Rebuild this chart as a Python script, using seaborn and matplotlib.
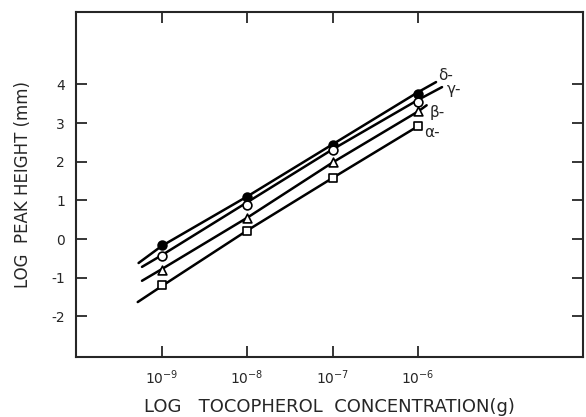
import matplotlib
matplotlib.use("Agg")
import matplotlib.pyplot as plt
import seaborn as sns
import pandas as pd

sns.set_style("ticks")
plt.rcParams['font.family'] = ['DejaVu Sans']

# data (log10 grams vs log peak height)
log_conc = [-9, -8, -7, -6]
delta = [-0.15, 1.10, 2.42, 3.75]
gamma = [-0.45, 0.88, 2.30, 3.55]
beta = [-0.80, 0.55, 2.00, 3.30]
alpha = [-1.20, 0.22, 1.58, 2.92]

# fitted line end points
delta_line_x = [-9.27, -9, -8, -7, -6, -5.79]
delta_line_y = [-0.62, -0.18, 1.10, 2.45, 3.80, 4.06]
gamma_line_x = [-9.23, -9, -8, -7, -6, -5.72]
gamma_line_y = [-0.72, -0.42, 0.95, 2.32, 3.60, 3.93]
beta_line_x = [-9.23, -9, -8, -7, -6, -5.90]
beta_line_y = [-1.08, -0.78, 0.55, 1.98, 3.30, 3.46]
alpha_line_x = [-9.28, -9, -8, -7, -6]
alpha_line_y = [-1.63, -1.22, 0.22, 1.58, 2.92]

series_labels = ["δ-", "γ-", "β-", "α-"]
y_ticks = [-2, -1, 0, 1, 2, 3, 4]
x_ticks = [-9, -8, -7, -6]
x_tick_labels = ["$10^{-9}$", "$10^{-8}$", "$10^{-7}$", "$10^{-6}$"]

fig = plt.figure(figsize=(5.86, 4.17), dpi=100)
ax = fig.add_axes([0.130, 0.144, 0.865, 0.827])

lines = [(delta_line_x, delta_line_y), (gamma_line_x, gamma_line_y),
         (beta_line_x, beta_line_y), (alpha_line_x, alpha_line_y)]
for lx, ly in lines:
    sns.lineplot(x=lx, y=ly, ax=ax, color="black", lw=1.8, sort=False,
                 estimator=None)

pts = [(delta, "o", "black"), (gamma, "o", "white"),
       (beta, "^", "white"), (alpha, "s", "white")]
for vals, mk, fc in pts:
    sns.scatterplot(x=log_conc, y=vals, ax=ax, marker=mk, s=40,
                    color=fc, edgecolor="black", linewidth=1.2, zorder=5)

label_pos = [(-5.76, 4.22), (-5.66, 3.88), (-5.86, 3.28), (-5.93, 2.75)]
for lab, (lx, ly) in zip(series_labels, label_pos):
    ax.text(lx, ly, lab, fontsize=11, ha="left", va="center")

ax.set_xlim(-10, -4.07)
ax.set_ylim(-3.05, 5.87)
ax.set_xticks(x_ticks)
ax.set_xticklabels(x_tick_labels, fontsize=10)
ax.set_yticks(y_ticks)
ax.set_yticklabels([str(v).replace("\u2212", "-") for v in y_ticks], fontsize=10)
ax.tick_params(direction="in", length=8, width=1.3, top=True, right=True,
               labelright=False, labeltop=False)
ax.tick_params(axis="y", pad=8)
ax.tick_params(axis="x", pad=8)
for sp in ax.spines.values():
    sp.set_linewidth(1.5)
    sp.set_visible(True)

ax.set_xlabel("LOG   TOCOPHEROL  CONCENTRATION(g)", fontsize=13, labelpad=8)
ax.set_ylabel("LOG  PEAK HEIGHT (mm)", fontsize=12, labelpad=14)

fig.savefig("out.png", dpi=100)
